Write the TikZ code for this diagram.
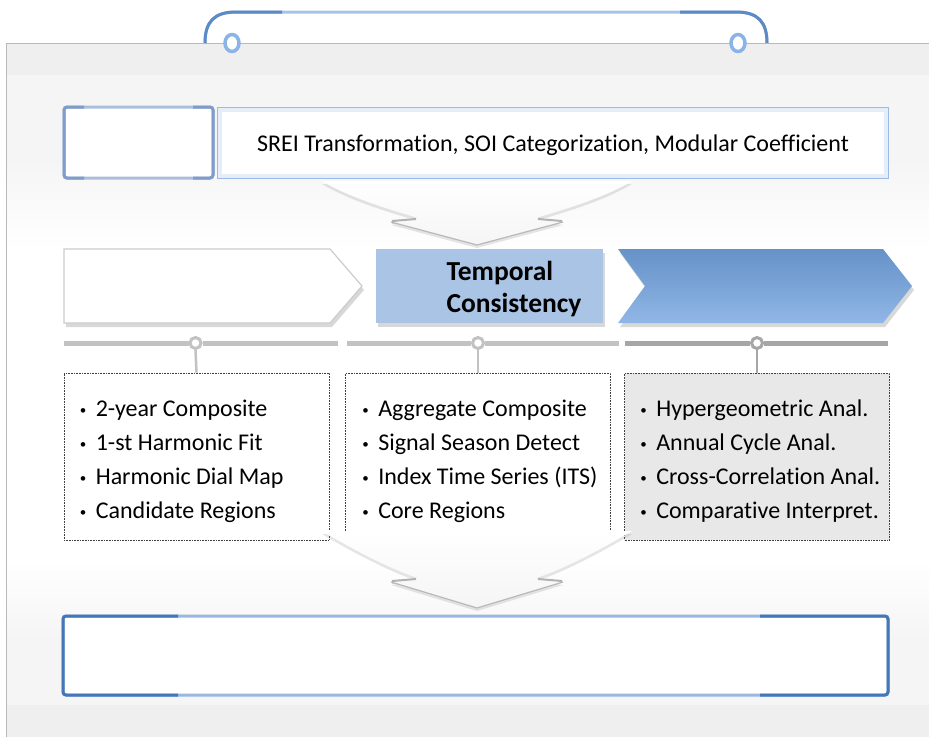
\documentclass[tikz,border=0pt]{standalone}
\usepackage{fontspec}
\setmainfont{Carlito}[Ligatures={NoCommon,NoContextual}]
\usetikzlibrary{shadows,calc,shapes.geometric}
\definecolor{handleDark}{HTML}{5B8AC6}
\definecolor{handleLight}{HTML}{A9C3E4}
\definecolor{ringC}{HTML}{8AB3E8}
\definecolor{tlDark}{HTML}{7F9CCB}
\definecolor{tlLight}{HTML}{AABFDD}
\definecolor{topBorder}{HTML}{9CBBE4}
\definecolor{glowC}{HTML}{E4EDF8}
\definecolor{midFill}{HTML}{A9C4E4}
\definecolor{chevTop}{HTML}{6592C8}
\definecolor{chevBot}{HTML}{90B7E6}
\definecolor{barLight}{HTML}{C2C2C2}
\definecolor{barDark}{HTML}{A6A6A6}
\definecolor{boxGray}{HTML}{E8E8E8}
\definecolor{botDark}{HTML}{4577B8}
\definecolor{botLight}{HTML}{9AB7DF}
\definecolor{bgA}{HTML}{EFEFEF}
\definecolor{bgB}{HTML}{F5F5F5}
\newcommand\blt{\makebox[16pt][l]{\raisebox{2.5pt}{\fontsize{13}{13}\selectfont\textbullet}}}
\newcommand\dnarrow[3]{%
  \fill[gray!35] (392,#2+1) -- (418,#2-1) -- (418,#2+3) -- (392,#2+4) -- cycle;
  \shade[top color=white,bottom color=gray!8,drop shadow={opacity=0.2,shadow xshift=0pt,shadow yshift=-3pt}]
    (322,#1) .. controls (352,#1+18) and (392,#2-10) .. (418,#2-2)
    -- (391,#2+2) -- (477,#3) -- (563,#2+2) -- (536,#2-2)
    .. controls (562,#2-10) and (602,#1+18) .. (632,#1) -- cycle;
  \draw[gray!55,line width=1.2] (391,#2+2) -- (477,#3) -- (563,#2+2);
  \draw[gray!60,line width=2] (392,#2+1) -- (416,#2-1);
  \draw[gray!60,line width=2] (538,#2-1) -- (562,#2+1);
}
\begin{document}
\begin{tikzpicture}[x=1pt,y=-1pt,
  bar/.style={line width=5pt},
  knob/.style={circle,draw,line width=3pt,fill=white,inner sep=0pt,minimum size=11pt},
  stem/.style={line width=2.5pt},
  dotbox/.style={rectangle,draw=black!75,line width=0.8pt,dash pattern=on 0.6pt off 1pt,minimum width=265pt,minimum height=167pt,inner sep=0pt},
  listtxt/.style={align=left,font=\fontsize{24}{34}\selectfont,inner sep=0pt,anchor=west},
  chevshadow/.style={drop shadow={opacity=0.3,shadow xshift=2pt,shadow yshift=-4pt}}
]
\useasboundingbox (0,0) rectangle (929,737);
% background panel
\fill[bgA] (6,43) rectangle (929,737);
\fill[bgB] (6,75) rectangle (929,705);
\shade[top color=bgB,bottom color=white] (6,160) rectangle (929,250);
\fill[white] (6,250) rectangle (929,560);
\shade[top color=white,bottom color=bgB] (6,560) rectangle (929,640);
\draw[gray!55,line width=1pt] (6,737) -- (6,43) -- (929,43);
% handle
\draw[handleLight,line width=3pt] (205,43) .. controls (205,22) and (214,12) .. (236,12) -- (736,12) .. controls (758,12) and (767,22) .. (767,43);
\draw[handleDark,line width=3pt] (205,43) .. controls (205,22) and (214,12) .. (236,12) -- (282,12);
\draw[handleDark,line width=3pt] (680,12) -- (736,12) .. controls (758,12) and (767,22) .. (767,43);
\node[ellipse,draw=ringC,line width=3.5pt,fill=white,minimum width=14pt,minimum height=17pt,inner sep=0pt] (r1) at (232,43) {};
\node[ellipse,draw=ringC,line width=3.5pt,fill=white,minimum width=14pt,minimum height=17pt,inner sep=0pt] (r2) at (738,43) {};
% top row
\node[rectangle,rounded corners=3pt,draw=tlLight,line width=3pt,fill=white,minimum width=149pt,minimum height=71pt] (src) at (138.5,142.5) {};
\draw[tlDark,line width=3pt,rounded corners=3pt] (84,107) -- (64,107) -- (64,178) -- (84,178);
\draw[tlDark,line width=3pt,rounded corners=3pt] (193,107) -- (213,107) -- (213,178) -- (193,178);
\node[rectangle,draw=topBorder,line width=1.5pt,fill=white,minimum width=670pt,minimum height=70pt] (proc) at (553,143) {};
\draw[glowC,line width=4pt] ($(proc.north west)+(3,3)$) rectangle ($(proc.south east)+(-3,-3)$);
\node[font=\fontsize{24}{28}\selectfont,inner sep=0pt] (proctxt) at ($(proc.center)+(0,2)$) {SREI Transformation, SOI Categorization, Modular Coefficient};
% arrow 1
\dnarrow{181}{220}{245}
% chevrons
\path[fill=white,draw=gray!40,line width=1.2pt,chevshadow] (64,249) -- (330,249) -- (362,286) -- (330,323) -- (64,323) -- cycle;
\node[rectangle,fill=midFill,minimum width=227pt,minimum height=74pt,inner sep=0pt,chevshadow] (tc) at (489.5,286) {};
\node[align=left,font=\fontsize{27.5}{32}\selectfont\bfseries,inner sep=0pt] (tctxt) at (514,289) {Temporal\\Consistency};
\shade[top color=chevTop,middle color=chevTop,bottom color=chevBot,chevshadow] (618,249) -- (883,249) -- (912,286) -- (883,323) -- (618,323) -- (645,286) -- cycle;
% bars and knobs
\node[knob,draw=barLight] (k1) at (195.5,343) {};
\node[knob,draw=barLight] (k2) at (478,343) {};
\node[knob,draw=barDark] (k3) at (757,343) {};
\draw[bar,barLight] (64,343) -- (k1.west);
\draw[bar,barLight] (k1.east) -- (338,343);
\draw[bar,barLight] (347,343) -- (k2.west);
\draw[bar,barLight] (k2.east) -- (619,343);
\draw[bar,barDark] (625,343) -- (k3.west);
\draw[bar,barDark] (k3.east) -- (888,343);
% boxes
\node[dotbox,fill=white] (b1) at (196.5,456.5) {};
\node[dotbox,fill=white] (b2) at (478,456.5) {};
\node[dotbox,fill=boxGray] (b3) at (757,456.5) {};
\draw[stem,barLight] (k1.south) -- (b1.north);
\draw[stem,barLight] (k2.south) -- (b2.north);
\draw[stem,barDark] (k3.south) -- (b3.north);
\node[listtxt] (l1) at ($(b1.west)+(16,5)$) {\blt 2-year Composite\\\blt 1-st Harmonic Fit\\\blt Harmonic Dial Map\\\blt Candidate Regions};
\node[listtxt] (l2) at ($(b2.west)+(17,5)$) {\blt Aggregate Composite\\\blt Signal Season Detect\\\blt Index Time Series (ITS)\\\blt Core Regions};
\node[listtxt] (l3) at ($(b3.west)+(16,5)$) {\blt Hypergeometric Anal.\\\blt Annual Cycle Anal.\\\blt Cross-Correlation Anal.\\\blt Comparative Interpret.};
% arrow 2
\dnarrow{531}{580}{608}
% bottom box
\node[rectangle,rounded corners=3pt,draw=botLight,line width=3pt,fill=white,minimum width=825pt,minimum height=79pt] (out) at (475.5,655.5) {};
\draw[botDark,line width=3pt,rounded corners=3pt] (178,616) -- (63,616) -- (63,695) -- (178,695);
\draw[botDark,line width=3pt,rounded corners=3pt] (760,616) -- (888,616) -- (888,695) -- (760,695);
\end{tikzpicture}
\end{document}
